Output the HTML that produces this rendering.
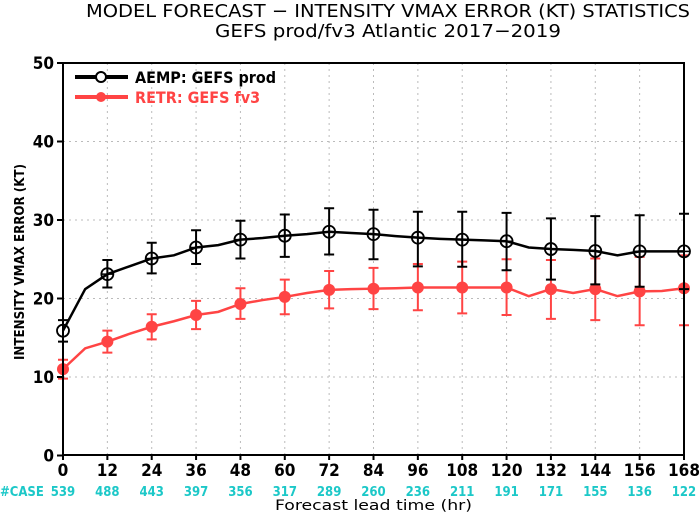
<!DOCTYPE html>
<html><head><meta charset="utf-8"><style>
body{margin:0;background:#fff}
svg text{font-family:"DejaVu Sans Condensed","Liberation Sans",sans-serif}
</style></head><body>
<svg id="chart" width="700" height="514" viewBox="0 0 700 514" xmlns="http://www.w3.org/2000/svg">
<text x="86" y="17" textLength="604" lengthAdjust="spacingAndGlyphs" font-size="18" fill="#000">MODEL FORECAST − INTENSITY VMAX ERROR (KT) STATISTICS</text>
<text x="215" y="37" textLength="346" lengthAdjust="spacingAndGlyphs" font-size="18" fill="#000">GEFS prod/fv3 Atlantic 2017−2019</text>
<g id="grid"></g>
<g id="series"></g>
<rect x="63" y="63" width="621" height="392" fill="none" stroke="#000" stroke-width="2"/>
<g id="axes"></g>
<text transform="translate(24,262) rotate(-90)" text-anchor="middle" textLength="196" lengthAdjust="spacingAndGlyphs" font-size="13" font-weight="bold" fill="#000">INTENSITY VMAX ERROR (KT)</text>
<text x="275" y="510" textLength="197" lengthAdjust="spacingAndGlyphs" font-size="14" fill="#000">Forecast lead time (hr)</text>
<text x="0" y="496" font-size="13" font-weight="bold" fill="#1cc8c8">#CASE</text>
<g>
<line x1="75" y1="77" x2="128" y2="77" stroke="#000" stroke-width="4"/>
<circle cx="101" cy="77" r="5" fill="#fff" stroke="#000" stroke-width="2"/>
<text x="135" y="83" font-size="16" font-weight="bold" fill="#000">AEMP: GEFS prod</text>
<line x1="75" y1="97" x2="128" y2="97" stroke="#f44" stroke-width="4"/>
<circle cx="101" cy="97" r="5" fill="#f44"/>
<text x="135" y="103" font-size="16" font-weight="bold" fill="#f44">RETR: GEFS fv3</text>
</g>
</svg>
<script>
const lineHours=[0,6,12,18,24,30,36,42,48,54,60,66,72,78,84,90,96,102,108,114,120,126,132,138,144,150,156,162,168];
const aempLine=[15.9,21.2,23.1,24.1,25.1,25.5,26.5,26.8,27.5,27.7,28.0,28.2,28.5,28.35,28.2,27.95,27.75,27.6,27.5,27.4,27.3,26.5,26.3,26.2,26.05,25.5,26.0,26.0,26.0];
const retrLine=[11.0,13.65,14.5,15.5,16.4,17.1,17.9,18.3,19.3,19.8,20.2,20.7,21.1,21.2,21.25,21.3,21.4,21.4,21.4,21.4,21.4,20.3,21.2,20.7,21.2,20.3,20.9,20.95,21.3];
const markHours=[0,12,24,36,48,60,72,84,96,108,120,132,144,156,168];
const aempHi=[17.25,24.9,27.1,28.7,29.9,30.7,31.5,31.3,31.05,31.05,30.9,30.2,30.5,30.6,30.8];
const aempLo=[14.5,21.4,23.2,24.4,25.1,25.3,25.6,25.0,24.1,24.05,23.6,22.4,21.8,21.5,21.2];
const retrHi=[12.2,15.9,18.0,19.7,21.3,22.4,23.5,23.9,24.4,24.7,25.0,24.9,25.1,25.3,25.5];
const retrLo=[9.8,13.1,14.8,16.1,17.4,18.0,18.75,18.65,18.5,18.1,17.9,17.4,17.25,16.6,16.6];
const caseCounts=[539,488,443,397,356,317,289,260,236,211,191,171,155,136,122];
const yTicks=[0,10,20,30,40,50];
const NS='http://www.w3.org/2000/svg';
const X=h=>63+h*(621/168), Y=v=>455.5-v*7.85;
function mk(tag,attrs,parent){const e=document.createElementNS(NS,tag);for(const k in attrs)e.setAttribute(k,attrs[k]);parent.appendChild(e);return e;}
const grid=document.getElementById('grid'),axes=document.getElementById('axes'),ser=document.getElementById('series');
markHours.forEach((h,i)=>{
 if(h>0&&h<168){const g=mk('line',{x1:X(h),x2:X(h),y1:63,y2:455,stroke:'#bbb','stroke-dasharray':'2,4'},grid);}
 const t=mk('line',{x1:X(h),x2:X(h),y1:455,y2:460,stroke:'#000','stroke-width':2},axes);
 const l=mk('text',{x:X(h),y:476,'text-anchor':'middle','font-size':17,'font-weight':'bold',fill:'#000'},axes);l.textContent=h;
 const c=mk('text',{x:X(h),y:496,'text-anchor':'middle','font-size':13,'font-weight':'bold',fill:'#1cc8c8'},axes);c.textContent=caseCounts[i];
});
yTicks.forEach(v=>{
 if(v>0&&v<50){const g=mk('line',{x1:63,x2:684,y1:Y(v),y2:Y(v),stroke:'#bbb','stroke-dasharray':'2,4'},grid);}
 const t=mk('line',{x1:57,x2:63,y1:Y(v),y2:Y(v),stroke:'#000','stroke-width':2},axes);
 const l=mk('text',{x:54,y:Y(v)+6,'text-anchor':'end','font-size':17,'font-weight':'bold',fill:'#000'},axes);l.textContent=v;
});
function series(line,hi,lo,color,open,name){
 const p=mk('polyline',{points:lineHours.map((h,i)=>X(h)+','+Y(line[i])).join(' '),fill:'none',stroke:color,'stroke-width':2.5},ser);
 
 markHours.forEach((h,i)=>{
  const x=X(h);
  const b=mk('path',{d:`M${x},${Y(lo[i])}V${Y(hi[i])}M${x-5},${Y(hi[i])}h10M${x-5},${Y(lo[i])}h10`,stroke:color,'stroke-width':2,fill:'none'},ser);
  
  const v=line[lineHours.indexOf(h)];
  const c=mk('circle',{cx:x,cy:Y(v),r:6,fill:open?'none':color,stroke:open?color:'none','stroke-width':1.8},ser);
  
  if(open&&h>0){const c2=mk('path',{d:`M${x-6},${Y(v)}h12M${x},${Y(v)-6}v12`,stroke:color,'stroke-width':1.5},ser);}
 });
}
series(retrLine,retrHi,retrLo,'#f44',false,'retr');
series(aempLine,aempHi,aempLo,'#000',true,'aemp');
</script>
</body></html>
